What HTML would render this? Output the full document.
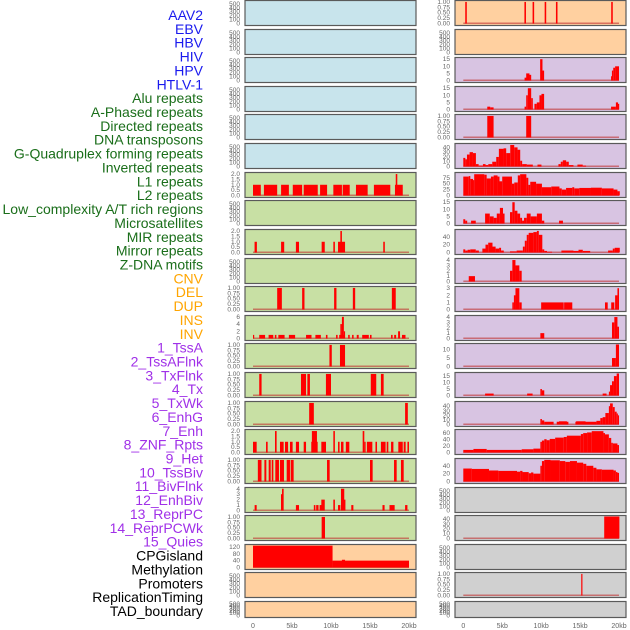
<!DOCTYPE html>
<html><head><meta charset="utf-8"><style>
html,body{margin:0;padding:0;background:#fff;}
svg{display:block;font-family:"Liberation Sans",sans-serif;}
</style></head><body>
<svg id="chart" width="630" height="630" xmlns="http://www.w3.org/2000/svg"></svg>
<script>
const trackLabels=["AAV2","EBV","HBV","HIV","HPV","HTLV-1","Alu repeats","A-Phased repeats","Directed repeats","DNA transposons","G-Quadruplex forming repeats","Inverted repeats","L1 repeats","L2 repeats","Low_complexity A/T rich regions","Microsatellites","MIR repeats","Mirror repeats","Z-DNA motifs","CNV","DEL","DUP","INS","INV","1_TssA","2_TssAFlnk","3_TxFlnk","4_Tx","5_TxWk","6_EnhG","7_Enh","8_ZNF_Rpts","9_Het","10_TssBiv","11_BivFlnk","12_EnhBiv","13_ReprPC","14_ReprPCWk","15_Quies","CPGisland","Methylation","Promoters","ReplicationTiming","TAD_boundary"];
const labelColors=[].concat(Array(6).fill("#1a1aee"),Array(13).fill("#1a6e1a"),Array(5).fill("#ffa500"),Array(15).fill("#a030e8"),Array(5).fill("#000000"));
const xTickValues=[0,5000,10000,15000,20000];
const xTickLabels=["0","5kb","10kb","15kb","20kb"];
const E=[0,100,200,300,400,500], EL=["0","100","200","300","400","500"];
const U=[0,0.25,0.5,0.75,1], UL=["0.00","0.25","0.50","0.75","1.00"];
const T=[0,0.5,1,1.5,2], TL=["0.0","0.5","1.0","1.5","2.0"];
// segments: [startKb, endKb, value]
const segL6=[[0,1,1],[1.4,3.1,1],[3.6,4.6,1],[5.1,6.3,1],[6.5,8.3,1],[8.6,9.5,1],[10.3,11.4,1],[11.5,12.4,1],[13.2,14.7,1],[15.5,17.6,1],[18.2,19.2,1],[18.3,18.5,2]];
const segL8=[[0.2,0.5,1],[3.6,4.0,1],[5.5,5.9,1],[8.8,9.2,1],[10.3,10.5,1],[10.9,11.8,1],[11.2,11.4,2],[16.7,16.9,1]];
const segL10=[[3.1,3.7,1],[6.3,6.6,1],[10.4,10.7,1],[12.8,13.1,1],[17.8,18.3,1]];
const segL11=[[0,0.1,1],[0.8,1.55,1],[2.0,2.6,1],[2.8,3.0,1],[3.25,4.05,1],[4.6,5.4,1],[6.8,7.5,1],[8.0,8.7,1],[9.35,9.55,1],[10.65,10.85,1],[11.05,11.8,1],[11.2,11.4,4],[11.4,11.65,6],[11.65,11.8,2],[12.2,12.4,1],[12.7,12.9,1],[13.3,13.55,1],[14.0,14.85,1],[15.0,15.2,1],[17.7,17.9,1],[18.1,18.35,1],[18.6,18.85,2],[19.1,19.55,1]];
const segL12=[[9.8,10.1,1],[11.15,11.8,1]];
const segL13=[[0.8,1.1,1],[6.15,6.8,1],[6.97,7.3,1],[9.35,10.0,1],[15.1,15.8,1],[16.4,16.75,1]];
const segL14=[[7.2,7.8,1],[19.5,19.85,1]];
const segL15=[[0,0.47,1],[1.67,1.88,1],[2.82,3.03,2],[3.46,3.93,1],[4.1,4.5,1],[4.74,5.08,1],[5.5,5.9,1],[6.5,6.8,1],[7.47,8.29,1],[7.55,8.2,2],[8.76,9.36,1],[10.3,10.5,2],[10.9,11.1,1],[11.28,11.6,1],[11.9,12.35,1],[14.06,14.27,2],[14.27,14.44,1],[14.6,15.3,1],[15.7,15.9,1],[16.4,17.0,1],[17.14,17.35,1],[17.7,18.0,1],[18.63,19.2,1],[19.32,19.57,1],[19.8,20,1]];
const segL16=[[0.62,1.09,1],[1.46,1.71,1],[2.01,2.27,1],[2.4,2.61,1],[2.86,3.33,1],[3.46,3.97,1],[4.32,4.74,1],[4.83,5.21,1],[9.49,9.83,1],[15.0,15.34,1],[18.08,18.42,1],[18.97,19.32,1]];
const segL17=[[0.21,0.47,1],[3.59,3.72,3],[3.72,3.93,4],[5.5,5.9,1],[7.8,8.0,1],[8.1,8.4,1],[8.54,8.8,1],[8.76,9.2,2],[10.3,10.5,2],[10.9,11.2,1],[11.28,11.7,4],[11.6,11.85,2],[12.6,12.87,1],[16.6,16.87,1],[17.5,18.16,1],[19.5,19.8,1]];
const segL18=[[8.8,9.23,1]];
const segL19=[[0,10.2,127],[10.2,20,40],[11.4,11.8,45]];
const segR0=[[0.25,0.45,1],[7.85,8.05,1],[8.9,9.1,1],[10.45,10.65,1],[11.9,12.1,1],[19.0,19.2,1]];
const segR2=[[7.87,8.16,2],[8.08,8.5,5],[8.5,8.72,4],[9.87,10.17,15],[10.17,10.38,7],[18.98,19.09,3],[19.09,19.26,7],[19.26,19.5,9],[19.5,20,10]];
const segR3=[[3.08,3.46,2],[3.46,3.89,1.5],[7.87,8.08,2],[8.08,8.29,10],[8.29,8.72,15],[8.72,8.93,8],[9.14,9.44,4],[9.44,9.78,5],[9.78,10.04,10],[10.04,10.38,11],[18.98,19.6,2],[19.6,19.87,5],[19.87,20,4]];
const segR4=[[3.08,3.89,1],[8.08,8.72,1]];
const segR5=[[0,0.26,18],[0.26,0.47,15],[0.47,0.81,25],[0.81,1.24,30],[1.24,1.62,28],[1.62,1.97,5],[1.97,2.52,2],[2.52,2.86,5],[2.86,3.21,3],[3.21,3.72,5],[3.72,4.23,10],[4.23,4.57,20],[4.57,5.17,37],[5.17,5.51,38],[5.51,6.03,28],[6.03,6.54,45],[6.54,6.97,40],[6.97,7.31,35],[7.31,7.56,12],[7.56,8.16,5],[8.16,8.93,4],[9.53,10.04,4],[12.22,12.52,5],[12.52,12.78,10],[12.78,13.21,13],[13.21,13.55,10],[13.55,14.15,3],[14.66,15.34,4],[15.34,15.77,2]];
const segR6=[[0,0.7,80],[0.7,0.9,82],[0.9,1.25,70],[1.25,1.4,65],[1.4,2.7,90],[2.7,3.0,88],[3.0,3.55,72],[3.55,3.9,80],[3.9,4.4,85],[4.4,4.65,80],[4.65,5.0,60],[5.0,6.25,80],[6.25,6.55,50],[6.55,7.0,55],[7.0,7.3,85],[7.3,8.1,90],[8.1,8.35,75],[8.35,8.6,45],[8.6,9.35,58],[9.35,10.1,50],[10.1,11.3,35],[11.3,12.35,38],[12.35,12.65,30],[12.65,13.2,25],[13.2,14.0,32],[14.0,14.25,35],[14.25,14.9,30],[14.9,16.4,32],[16.4,17.8,33],[17.8,19.3,30],[19.3,19.8,25],[19.8,20.1,18]];
const segR7=[[0,0.25,3],[0.25,0.5,2],[1.0,1.6,2],[2.8,3.4,7],[3.4,3.9,5],[3.9,4.3,4],[4.3,4.7,7],[4.7,5.1,11],[5.1,5.3,7],[6.0,6.3,8],[6.3,6.6,15],[6.6,6.95,9],[6.95,7.3,7],[7.3,7.55,4],[7.55,7.8,2],[7.8,8.15,4],[8.15,8.65,7],[8.65,9.45,5],[9.45,10.1,7],[10.1,10.4,2],[12.3,12.8,2]];
const segR8=[[0,0.25,8],[0.25,0.55,5],[0.55,0.9,7],[0.9,1.6,8],[1.6,2.0,5],[2.45,2.85,10],[2.85,3.2,20],[3.2,3.75,25],[3.75,4.15,15],[4.15,4.6,10],[4.6,4.85,12],[4.85,5.2,5],[6.0,6.85,3],[6.85,7.65,5],[7.65,7.9,15],[7.9,8.15,30],[8.15,8.4,45],[8.4,9.0,50],[9.0,9.45,52],[9.45,9.7,55],[9.7,10.15,45],[10.15,10.4,8],[10.4,10.75,4],[10.75,11.4,2],[12.6,14.15,5],[14.15,14.8,4],[14.8,15.35,7],[15.35,16.3,4],[18.6,19.2,5],[19.2,19.45,10],[19.45,20.1,12]];
const segR9=[[0.7,1.5,1],[6.0,6.3,2],[6.3,6.7,4],[6.7,7.2,3],[7.2,7.5,2]];
const segR10=[[6.3,6.5,1],[6.5,6.7,2],[6.7,7.2,3],[7.2,7.5,1],[10.0,12.9,1],[12.95,14.0,1],[18.2,18.55,1],[19.0,19.4,1],[19.5,19.8,2],[19.8,20,3]];
const segR11=[[9.9,10.4,1],[19.1,19.4,3],[19.4,19.8,4],[19.8,20,2.2]];
const segR12=[[19.1,19.6,5],[19.6,20,13]];
const segR13=[[2.8,3.9,1.5],[8.2,8.9,1.5],[9.9,10.1,5],[10.1,10.4,4],[17.9,18.4,1.5],[18.7,18.85,3],[18.85,19.1,8],[19.1,19.35,11],[19.35,19.7,15],[19.7,20,17]];
const segR14=[[9.9,10.1,12],[10.1,10.4,9],[10.4,11.6,6],[12.0,13.5,6],[12.3,13.3,7],[14.4,17.1,6],[14.5,15.7,7],[17.1,17.6,8],[17.6,17.9,14],[17.9,18.25,16],[18.25,18.7,25],[18.7,18.85,40],[18.85,19.2,46],[19.2,19.45,38],[19.45,19.7,28],[19.7,19.85,24],[19.85,20,20]];
const segR15=[[0,1.3,8],[1.3,3.0,11],[3.0,7.5,8],[7.5,9.0,10],[9.0,9.9,12],[9.9,10.1,33],[10.1,10.4,37],[10.4,10.7,41],[10.7,11.1,38],[11.1,11.8,42],[11.8,12.9,46],[12.9,13.3,48],[13.3,15.1,52],[15.1,15.4,57],[15.4,15.9,60],[15.9,16.5,62],[16.5,18.0,66],[18.0,18.2,60],[18.2,18.7,56],[18.7,19.0,45],[19.0,19.2,30],[19.2,19.8,28],[19.8,20,23]];
const segR16=[[0,1.1,33],[1.1,3.3,32],[3.3,4.5,28],[4.5,6.9,27],[6.9,7.3,25],[7.3,7.6,27],[7.6,8.4,24],[8.4,8.7,21],[8.7,9.0,23],[9.0,9.9,20],[9.9,10.1,40],[10.1,10.4,52],[10.4,11.2,55],[11.2,12.4,54],[12.4,13.1,52],[13.1,13.7,50],[13.7,14.6,52],[14.6,15.4,48],[15.4,15.8,45],[15.8,16.7,40],[16.7,17.1,35],[17.1,17.8,31],[17.8,19.3,30],[19.3,19.6,28],[19.6,19.8,24],[19.8,20,22]];
const segR18=[[18.1,20.05,45]];
const segR20=[[15.15,15.3,1]];
const leftSegs=[null,null,null,null,null,null,segL6,null,segL8,null,segL10,segL11,segL12,segL13,segL14,segL15,segL16,segL17,segL18,segL19,null,null];
const rightSegs=[segR0,null,segR2,segR3,segR4,segR5,segR6,segR7,segR8,segR9,segR10,segR11,segR12,segR13,segR14,segR15,segR16,null,segR18,null,segR20,null];
const leftYMax=[560,560,560,560,560,560,2.05,560,2.05,560,1.02,6.1,1.02,1.02,1.02,2.05,1.02,4.05,1.02,128,560,560];
const rightYMax=[1.02,560,15.5,15.5,1.02,46,93,15.5,56,4.1,3.1,4.1,13,17,48,68,56,560,45,560,1.02,560];
const leftTicks=[E,E,E,E,E,E,T,E,T,E,U,[0,2,4,6],U,U,U,T,U,[0,1,2,3,4],U,[0,40,80,120],E,E];
const leftTickLabels=[EL,EL,EL,EL,EL,EL,TL,EL,TL,EL,UL,["0","2","4","6"],UL,UL,UL,TL,UL,["0","1","2","3","4"],UL,["0","40","80","120"],EL,EL];
const rightTicks=[U,E,[0,5,10,15],[0,5,10,15],U,[0,10,20,30,40],[0,25,50,75],[0,5,10,15],[0,20,40],[0,1,2,3,4],[0,1,2,3],[0,1,2,3,4],[0,5,10],[0,5,10,15],[0,10,20,30,40],[0,20,40,60],[0,20,40],E,[0,10,20,30,40],E,U,E];
const rightTickLabels=[UL,EL,["0","5","10","15"],["0","5","10","15"],UL,["0","10","20","30","40"],["0","25","50","75"],["0","5","10","15"],["0","20","40"],["0","1","2","3","4"],["0","1","2","3"],["0","1","2","3","4"],["0","5","10"],["0","5","10","15"],["0","10","20","30","40"],["0","20","40","60"],["0","20","40"],EL,["0","10","20","30","40"],EL,UL,EL];
const leftColors=[].concat(Array(6).fill("#c8e4ec"),Array(13).fill("#c8e0a4"),Array(3).fill("#ffd0a0"));
const rightColors=[].concat(Array(2).fill("#ffd0a0"),Array(15).fill("#d8c4e2"),Array(5).fill("#d0d0d0"));

const NS="http://www.w3.org/2000/svg";
const svg=document.getElementById("chart");
function mk(tag,attrs,parent){const e=document.createElementNS(NS,tag);for(const k in attrs)e.setAttribute(k,attrs[k]);(parent||svg).appendChild(e);return e;}

// track labels
trackLabels.forEach((t,i)=>{
  const el=mk("text",{x:203,y:20+i*13.86,"text-anchor":"end","font-size":"14",fill:labelColors[i]});
  el.textContent=t;
  
  
});

function rowTop(i){return Math.round(i*28.62);}
function rowH(i){return i===21?16:25;}

function drawColumn(side,px0,px1,x0,x1,segsList,yMaxList,ticksList,tickLabList,colors){
  const xScale=kb=>x0+(x1-x0)*kb/20;
  for(let i=0;i<22;i++){
    const top=rowTop(i),h=rowH(i);
    const g=mk("g",{});
    
    
    const bg=mk("rect",{x:px0,y:top+0.5,width:px1-px0,height:h,fill:colors[i],stroke:"#5a5a5a","stroke-width":"1.2"},g);
    
    
    const yTop=top+1.5,yBot=top+h-1.5;
    const ymax=yMaxList[i];
    const yScale=v=>yBot-(yBot-yTop)*v/ymax;
    ticksList[i].forEach((tv,k)=>{
      const tl=mk("text",{x:px0-5,y:yScale(tv)+2,"text-anchor":"end","font-size":"6.5",fill:"#666"},g);
      tl.textContent=tickLabList[i][k];
      
      
    });
    const segs=segsList[i];
    if(segs){
      const base=mk("rect",{x:xScale(0),y:yBot-1,width:xScale(20)-xScale(0),height:1.5,fill:"#c03030",opacity:"0.6"},g);
      
      
      segs.forEach(s=>{
        const xa=xScale(s[0]),xb=xScale(s[1]);
        const b=mk("rect",{x:xa,y:yScale(s[2]),width:Math.max(1.2,xb-xa),height:yBot-yScale(s[2]),fill:"#ff0000"},g);
        
        
      });
    }
  }
  xTickValues.forEach((v,k)=>{
    const t=mk("text",{x:xScale(v/1000),y:628,"text-anchor":"middle","font-size":"7",fill:"#666"});
    t.textContent=xTickLabels[k];
    
    
  });
}
drawColumn("left",245,416,253,409,leftSegs,leftYMax,leftTicks,leftTickLabels,leftColors);
drawColumn("right",455,626,463.3,619,rightSegs,rightYMax,rightTicks,rightTickLabels,rightColors);
</script>
</body></html>
